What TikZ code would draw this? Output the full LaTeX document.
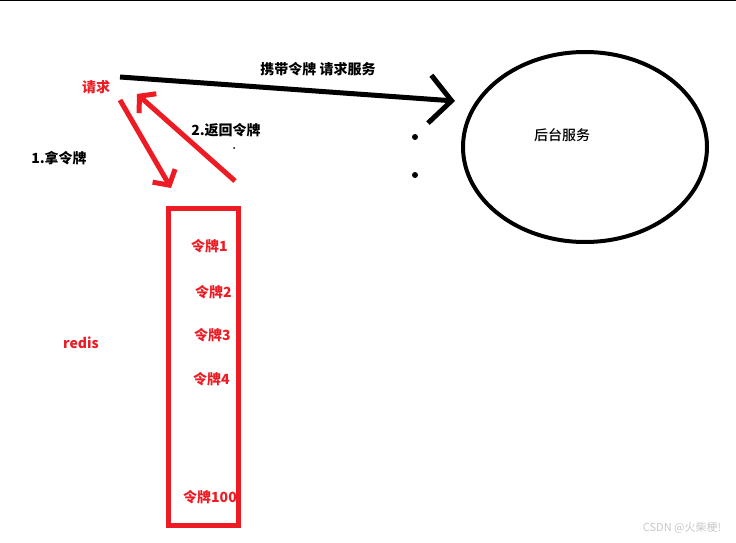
\documentclass[tikz,border=0pt]{standalone}
\usepackage{fontspec}
\setmainfont{Liberation Sans}
\newfontfamily\cjk{Noto Sans CJK SC}
\newfontfamily\cjkmid{Noto Sans CJK SC Medium}
\usepackage{xcolor}
\usetikzlibrary{arrows.meta,positioning,shapes.geometric}
\definecolor{paintred}{HTML}{ED1C24}

\begin{document}
\begin{tikzpicture}[
  x=1pt, y=-1pt,
  lbl/.style={font=\cjk\bfseries\fontsize{14}{16}\selectfont, inner sep=0pt},
  redlbl/.style={lbl, text=paintred},
  token/.style={redlbl, anchor=west},
  store/.style={draw=paintred, line width=5pt, minimum width=70pt, minimum height=317pt},
  service/.style={draw, ellipse, line width=4pt, minimum width=244pt, minimum height=190pt},
  bigarrow/.style={line width=5pt, -{Straight Barb[length=22pt, width=48pt, line width=5pt]}},
  redarrow/.style={draw=paintred, line width=5pt, -{Straight Barb[length=11pt, width=26pt, line width=5pt]}},
  dot/.style={circle, fill, inner sep=0pt, minimum size=6pt}
]
\useasboundingbox (0,0) rectangle (736,543);
\draw[line width=1.5pt] (0,0.75) -- (736,0.75);

% client and backend
\node[redlbl] (req) at (96,87) {请求};
\node[service] (backend) at (585,147) {};
\node[font=\cjkmid\fontsize{14}{16}\selectfont, inner sep=0pt] (svc) at (562,135) {后台服务};

% token store
\node[token] (t1) at (191,246) {令牌1};
\node[token] (t2) at (195,292) {令牌2};
\node[token] (t3) at (194,335) {令牌3};
\node[token] (t4) at (193,379) {令牌4};
\node[token] (t100) at (183,497) {令牌100};
\node[store] (redis) at (203,366.5) {};
\node[redlbl] (redislbl) at (81,343) {redis};

% labels
\node[lbl] (carry) at (318,69) {携带令牌 请求服务};
\node[lbl] (take) at (59,158) {1.拿令牌};
\node[lbl] (back) at (226,130) {2.返回令牌};

% ends of the hand-drawn strokes
\coordinate (reqout) at (120,77);
\coordinate (svcin) at (455,101);
\coordinate (reqdown) at (120,100);
\coordinate (getend) at (171,188);
\coordinate (retstart) at (235,181);
\coordinate (retend) at (137,94);

\draw[bigarrow] (reqout) -- (svcin);
\draw[redarrow] (reqdown) -- (getend);
\draw[redarrow] (retstart) -- (retend);

\node[dot] (d1) at (415,137) {};
\node[dot] (d2) at (415,175) {};
\node[dot, minimum size=2pt] (d3) at (234,148) {};

\node[font=\cjk\fontsize{11}{13}\selectfont, text=black!22, inner sep=0pt] (mark) at (682,528) {CSDN @火柴梗!};
\end{tikzpicture}
\end{document}
